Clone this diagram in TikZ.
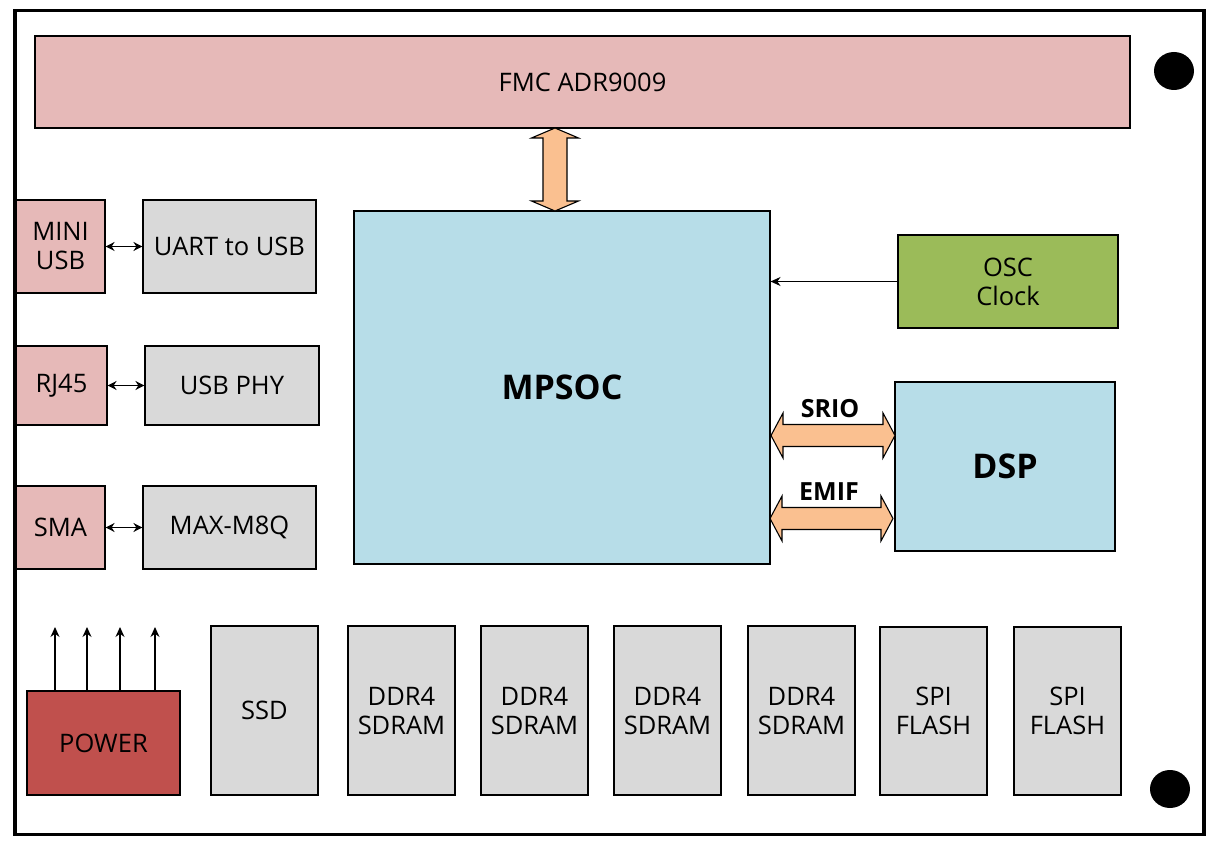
\documentclass[tikz,border=0pt]{standalone}
\usepackage{fontspec}
\setmainfont{Open Sans}
\usetikzlibrary{arrows.meta}

\definecolor{pinkbox}{HTML}{E6B9B8}
\definecolor{graybox}{HTML}{D9D9D9}
\definecolor{bluebox}{HTML}{B7DDE8}
\definecolor{greenbox}{HTML}{9BBB59}
\definecolor{redbox}{HTML}{C0504D}
\definecolor{busfill}{HTML}{FAC090}

\tikzset{
  blk/.style={draw, line width=1.1, inner sep=0, align=center,
    font=\fontsize{25.5}{29}\selectfont},
  bus/.style={draw, line width=1.1, fill=busfill, line join=miter},
  link/.style={line width=1.2, {Stealth[length=9,width=9]}-{Stealth[length=9,width=9]}},
  up/.style={line width=1.2, -{Stealth[length=10,width=9]}}
}

\begin{document}
\begin{tikzpicture}[x=1pt,y=-1pt]
\useasboundingbox (0,0) rectangle (1219,850);
\draw[line width=3.5] (15,10.5) rectangle (1204,834.5);

\node[blk, fill=pinkbox, minimum width=1095, minimum height=92] (fmc) at (582.5,82) {FMC ADR9009};
\node[blk, fill=bluebox, minimum width=416, minimum height=353] (mpsoc) at (562,387.5) {\fontsize{34}{40}\selectfont\bfseries MPSOC};

% left side interfaces
\node[blk, fill=pinkbox, minimum width=89, minimum height=93] (miniusb) at (60.5,246.5) {MINI\\USB};
\node[blk, fill=graybox, minimum width=173, minimum height=93] (uart) at (229.5,246.5) {UART to USB};
\node[blk, fill=pinkbox, minimum width=91, minimum height=79] (rj45) at (61.5,385.5) {RJ45};
\node[blk, fill=graybox, minimum width=174, minimum height=79] (usbphy) at (232,385.5) {USB PHY};
\node[blk, fill=pinkbox, minimum width=89, minimum height=83] (sma) at (60.5,527.5) {SMA};
\node[blk, fill=graybox, minimum width=173, minimum height=83] (maxm) at (229.5,527.5) {MAX-M8Q};

\draw[link] (miniusb) -- (uart);
\draw[link] (rj45) -- (usbphy);
\draw[link] (sma) -- (maxm);

% right side
\node[blk, fill=greenbox, minimum width=220, minimum height=93] (osc) at (1008,281.5) {OSC\\Clock};
\node[blk, fill=bluebox, minimum width=220, minimum height=169] (dsp) at (1005,466.5) {\fontsize{34}{40}\selectfont\bfseries DSP};
\draw[line width=1.2, -{Stealth[length=10,width=9]}] (osc.west) -- (osc.west -| mpsoc.east);

% fat buses
\draw[bus] (555,128) -- ++(23.5,10) -- ++(-11.5,0) -- ++(0,63) -- ++(11.5,0) -- (555,211)
  -- ++(-23.5,-10) -- ++(11.5,0) -- ++(0,-63) -- ++(-11.5,0) -- cycle;
\draw[bus] (771,435.5) -- ++(12,-22.5) -- ++(0,11.5) -- ++(100,0) -- ++(0,-11.5) -- (895,435.5)
  -- ++(-12,22.5) -- ++(0,-11.5) -- ++(-100,0) -- ++(0,11.5) -- cycle;
\draw[bus] (770,518.5) -- ++(12,-22.5) -- ++(0,11.5) -- ++(99,0) -- ++(0,-11.5) -- (893,518.5)
  -- ++(-12,22.5) -- ++(0,-11.5) -- ++(-99,0) -- ++(0,11.5) -- cycle;
\node[font=\fontsize{25}{30}\selectfont\bfseries] (srio) at (830,409) {SRIO};
\node[font=\fontsize{25}{30}\selectfont\bfseries] (emif) at (829,492) {EMIF};

% bottom row
\node[blk, fill=redbox, minimum width=153, minimum height=104] (power) at (103.5,743) {POWER};
\foreach \px in {55,87,120,155}
  \draw[up] (\px,691) -- (\px,627);
\node[blk, fill=graybox, minimum width=107, minimum height=169] (ssd) at (264.5,710.5) {SSD};
\foreach \n/\cx in {1/401.5,2/534.5,3/667.5,4/801.5}
  \node[blk, fill=graybox, minimum width=107, minimum height=169] (ddr\n) at (\cx,710.5) {DDR4\\SDRAM};
\node[blk, fill=graybox, minimum width=107, minimum height=168] (spi1) at (933.5,711) {SPI\\FLASH};
\node[blk, fill=graybox, minimum width=107, minimum height=168] (spi2) at (1067.5,711) {SPI\\FLASH};

% mounting holes
\fill (1174,71) ellipse [x radius=20, y radius=19];
\fill (1170,789) ellipse [x radius=20, y radius=19];
\end{tikzpicture}
\end{document}
